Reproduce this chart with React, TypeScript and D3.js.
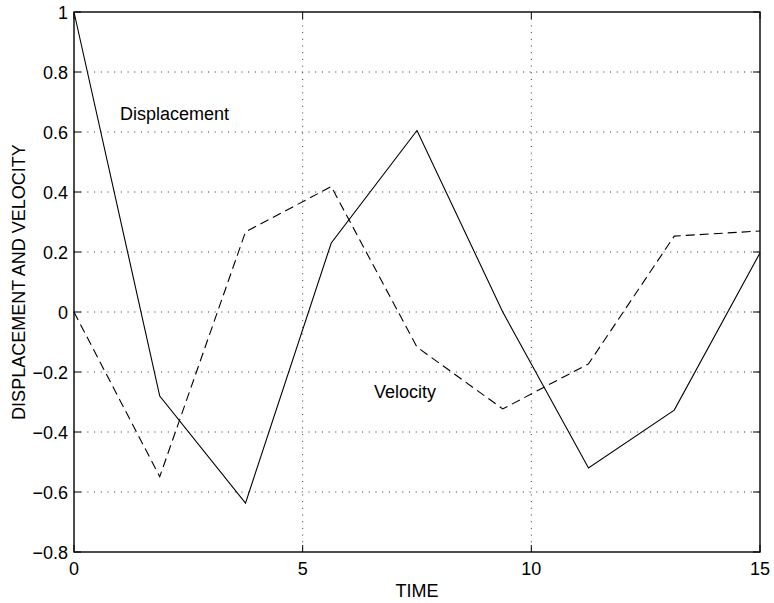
import React from "react";
import * as d3 from "d3";

const timeValues = [0, 1.875, 3.75, 5.625, 7.5, 9.375, 11.25, 13.125, 15];
const displacement = [1, -0.28, -0.637, 0.23, 0.605, 0.0, -0.52, -0.327, 0.197];
const velocity = [0, -0.549, 0.267, 0.418, -0.117, -0.323, -0.173, 0.253, 0.27];
const xTicks = [0, 5, 10, 15];
const yTicks = [-0.8, -0.6, -0.4, -0.2, 0, 0.2, 0.4, 0.6, 0.8, 1];

const W = 774;
const H = 603;
const L = 74, R = 760, T = 12, B = 552;
const FONT = "'Liberation Sans', Arial, Helvetica, sans-serif";

function fmt(v: number) {
  const s = Math.abs(v) < 1e-9 ? "0" : String(+v.toFixed(1));
  return s.replace("-", "\u2212");
}

export default function App() {
  const x = d3.scaleLinear().domain([0, 15]).range([L, R]);
  const y = d3.scaleLinear().domain([-0.8, 1]).range([B, T]);
  const line = d3
    .line<number>()
    .x((_, i) => x(timeValues[i]))
    .y((d) => y(d));
  const tl = 7;
  return (
    <svg
      width={W}
      height={H}
      style={{ position: "absolute", left: 0, top: 0, background: "#fff" }}
      fontFamily={FONT}
    >
      <rect x={0} y={0} width={W} height={H} fill="#fff" />
      {/* grid */}
      {xTicks
        .filter((t) => t > 0 && t < 15)
        .map((t) => (
          <line
            key={"gx" + t}
            x1={x(t)}
            x2={x(t)}
            y1={T}
            y2={B}
            stroke="#333"
            strokeWidth={1}
            strokeDasharray="1,5.7"
          />
        ))}
      {yTicks
        .filter((t) => t > -0.8 && t < 1)
        .map((t) => (
          <line
            key={"gy" + t}
            x1={L}
            x2={R}
            y1={y(t)}
            y2={y(t)}
            stroke="#333"
            strokeWidth={1}
            strokeDasharray="1,5.7"
          />
        ))}
      {/* ticks */}
      {xTicks.map((t) => (
        <g key={"tx" + t}>
          <line x1={x(t)} x2={x(t)} y1={B} y2={B - tl} stroke="#000" />
          <line x1={x(t)} x2={x(t)} y1={T} y2={T + tl} stroke="#000" />
          <text x={x(t)} y={575} textAnchor="middle" fontSize={18} fill="#000">
            {fmt(t)}
          </text>
        </g>
      ))}
      {yTicks.map((t) => (
        <g key={"ty" + t}>
          <line x1={L} x2={L + tl} y1={y(t)} y2={y(t)} stroke="#000" />
          <line x1={R} x2={R - tl} y1={y(t)} y2={y(t)} stroke="#000" />
          <text x={68} y={y(t) + 7} textAnchor="end" fontSize={18} fill="#000">
            {fmt(t)}
          </text>
        </g>
      ))}
      {/* data */}
      <path d={line(displacement) || ""} fill="none" stroke="#000" strokeWidth={1.1} />
      <path
        d={line(velocity) || ""}
        fill="none"
        stroke="#000"
        strokeWidth={1.1}
        strokeDasharray="9,5"
      />
      {/* box */}
      <rect x={L} y={T} width={R - L} height={B - T} fill="none" stroke="#000" strokeWidth={1.4} />
      {/* annotations */}
      <text x={120} y={120} fontSize={18} fill="#000">
        Displacement
      </text>
      <text x={374} y={398} fontSize={18} fill="#000">
        Velocity
      </text>
      <text x={(L + R) / 2} y={597} textAnchor="middle" fontSize={18} fill="#000">
        TIME
      </text>
      <text
        transform={`translate(25,${(T + B) / 2}) rotate(-90)`}
        textAnchor="middle"
        fontSize={18}
        fill="#000"
      >
        DISPLACEMENT AND VELOCITY
      </text>
    </svg>
  );
}
